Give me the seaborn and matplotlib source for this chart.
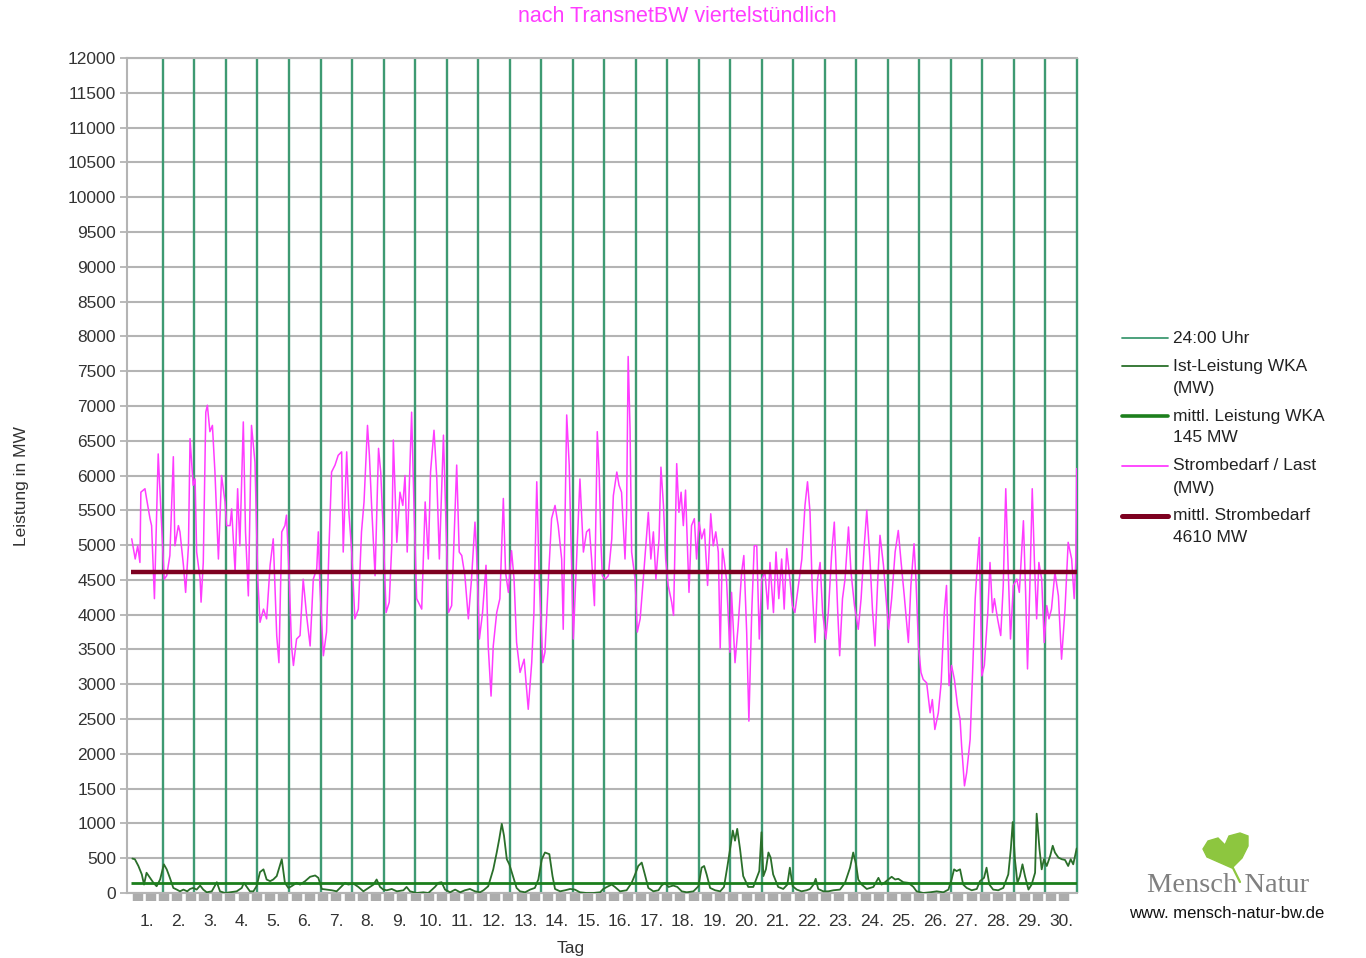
import numpy as np
import matplotlib
matplotlib.use("Agg")
import matplotlib.pyplot as plt
from matplotlib.lines import Line2D
from matplotlib.patches import Polygon
import seaborn as sns

# -----------------------------
# DATA (time in days since start)
# -----------------------------
last_t = [
    0.01, 0.12, 0.20, 0.27, 0.30, 0.43, 0.48, 0.59, 0.64, 0.73, 0.85, 0.94,
    1.04, 1.12, 1.22, 1.33, 1.38, 1.49, 1.54, 1.65, 1.72, 1.81, 1.86, 1.96,
    2.02, 2.07, 2.18, 2.21, 2.28, 2.36, 2.41, 2.49, 2.57, 2.65, 2.76, 2.86, 2.97,
    3.02, 3.13, 3.18, 3.29, 3.37, 3.44, 3.55, 3.62, 3.71, 3.81, 3.92,
    4.01, 4.08, 4.19, 4.29, 4.40, 4.50, 4.61, 4.68, 4.77, 4.87, 4.92,
    5.00, 5.08, 5.14, 5.24, 5.35, 5.45, 5.56, 5.67, 5.77, 5.88, 5.93, 5.98,
    6.09, 6.19, 6.27, 6.35, 6.46, 6.56, 6.67, 6.72, 6.83, 6.90, 6.99,
    7.09, 7.20, 7.30, 7.38, 7.49, 7.55, 7.62, 7.73, 7.84, 7.91, 7.99,
    8.08, 8.18, 8.26, 8.31, 8.42, 8.52, 8.61, 8.68, 8.75, 8.89, 8.97,
    9.05, 9.21, 9.32, 9.42, 9.49, 9.60, 9.69, 9.77, 9.90, 9.98,
    10.06, 10.16, 10.32, 10.40, 10.48, 10.58, 10.69, 10.79, 10.90, 10.95,
    11.04, 11.14, 11.25, 11.32, 11.41, 11.48, 11.59, 11.69, 11.80, 11.87, 11.96,
    12.06, 12.14, 12.22, 12.33, 12.46, 12.59, 12.70, 12.77, 12.86, 12.94,
    13.05, 13.12, 13.23, 13.33, 13.44, 13.54, 13.65, 13.70, 13.81, 13.89,
    14.02, 14.23, 14.34, 14.44, 14.53, 14.60, 14.69, 14.78, 14.84, 14.90, 14.94,
    15.03, 15.13, 15.24, 15.29, 15.40, 15.47, 15.55, 15.66, 15.71, 15.76, 15.82, 15.87, 15.98,
    16.05, 16.14, 16.24, 16.32, 16.40, 16.48, 16.56, 16.64, 16.74, 16.80, 16.88, 16.95,
    17.03, 17.14, 17.20, 17.30, 17.37, 17.44, 17.51, 17.58, 17.69, 17.77, 17.86, 17.93,
    18.01, 18.09, 18.18, 18.28, 18.38, 18.46, 18.54, 18.62, 18.68, 18.75, 18.80, 18.88, 18.99,
    19.04, 19.15, 19.25, 19.36, 19.43, 19.52, 19.59, 19.68, 19.76, 19.84, 19.92,
    20.00, 20.10, 20.19, 20.26, 20.37, 20.45, 20.54, 20.63, 20.71, 20.79, 20.89, 20.97,
    21.05, 21.16, 21.27, 21.37, 21.45, 21.53, 21.60, 21.69, 21.77, 21.85, 21.93,
    22.03, 22.11, 22.22, 22.30, 22.41, 22.47, 22.56, 22.64, 22.75, 22.83, 22.94,
    23.06, 23.15, 23.25, 23.33, 23.43, 23.51, 23.59, 23.68, 23.75, 23.86, 23.91,
    24.02, 24.12, 24.23, 24.33, 24.42, 24.52, 24.65, 24.73, 24.83, 24.89, 24.97,
    25.05, 25.12, 25.23, 25.34, 25.41, 25.49, 25.60, 25.69, 25.79, 25.86, 25.94,
    26.02, 26.11, 26.21, 26.29, 26.34, 26.43, 26.50, 26.61, 26.68, 26.77, 26.85, 26.90, 26.98,
    27.06, 27.17, 27.24, 27.32, 27.38, 27.48, 27.58, 27.66, 27.74, 27.82, 27.89, 27.98,
    28.09, 28.17, 28.30, 28.37, 28.43, 28.51, 28.58, 28.65, 28.72, 28.79, 28.88, 28.96,
    29.04, 29.11, 29.19, 29.30, 29.41, 29.51, 29.62, 29.72, 29.83, 29.91, 29.96, 29.99,
]
last_mw = [
    5090, 4800, 4990, 4750, 5760, 5810, 5670, 5380, 5280, 4230, 6310, 5470,
    4510, 4560, 4850, 6270, 4990, 5280, 5190, 4710, 4320, 4990, 6530, 5860,
    5950, 4900, 4510, 4180, 4750, 6910, 7010, 6630, 6720, 6050, 4800, 6000, 5620,
    5280, 5280, 5520, 4610, 5810, 4990, 6770, 5190, 4270, 6720, 6190,
    4510, 3890, 4080, 3940, 4710, 5090, 3700, 3310, 5190, 5280, 5430,
    4610, 3550, 3270, 3650, 3700, 4510, 3980, 3550, 4510, 4660, 5190, 4420,
    3410, 3750, 4990, 6050, 6150, 6290, 6340, 4900, 6340, 5470, 4900,
    3940, 4080, 5190, 5620, 6720, 6290, 5570, 4560, 6390, 6050, 5190,
    4030, 4180, 4990, 6510, 5040, 5760, 5570, 6000, 4900, 6910, 5470,
    4230, 4080, 5620, 4800, 6050, 6650, 5950, 4800, 6580, 5280,
    4030, 4130, 6150, 4900, 4850, 4560, 3940, 4510, 5330, 4900,
    3650, 4030, 4710, 3550, 2830, 3550, 4030, 4230, 5670, 4610, 4320,
    4920, 4510, 3600, 3170, 3360, 2640, 3310, 4030, 5910, 4510,
    3310, 3460, 4510, 5380, 5570, 5280, 4800, 3790, 6870, 6150,
    3650, 5950, 4900, 5190, 5230, 4800, 4130, 6630, 6050, 4990, 4560,
    4510, 4560, 5090, 5710, 6050, 5860, 5760, 4800, 5470, 7710, 6670, 4900, 4510,
    3750, 3940, 4510, 4990, 5470, 4800, 5190, 4510, 5090, 6120, 5570, 4800,
    4420, 4180, 3990, 6170, 5470, 5760, 5280, 5790, 4320, 5280, 5380, 4800,
    5330, 5090, 5230, 4420, 5450, 4990, 5190, 4900, 3510, 4950, 4800, 4510, 3460,
    4320, 3310, 3840, 4610, 4850, 3750, 2470, 4030, 4990, 4990, 3650,
    4510, 4610, 4080, 4750, 4030, 4900, 4230, 4800, 4080, 4950, 4510, 4130,
    4030, 4420, 4800, 5570, 5910, 5470, 4370, 3600, 4510, 4750, 4030,
    3650, 4030, 4900, 5330, 4030, 3410, 4230, 4510, 5260, 4610, 4130,
    3790, 4230, 4990, 5500, 4800, 4080, 3550, 4510, 5140, 4710, 4420,
    3790, 4230, 4900, 5210, 4750, 4270, 3600, 4420, 5020, 4510, 3550,
    3170, 3070, 3020, 2590, 2780, 2350, 2590, 3020, 4030, 4420, 2980,
    3270, 3070, 2690, 2500, 2110, 1540, 1730, 2210, 3070, 4230, 4800, 5110, 3120,
    3270, 4030, 4750, 4030, 4230, 3940, 3700, 4420, 5810, 4610, 3650, 4420,
    4510, 4320, 5350, 4320, 3220, 4510, 5810, 4750, 3940, 4750, 4510, 3600,
    4130, 3940, 4080, 4610, 4270, 3360, 4080, 5040, 4800, 4230, 4750, 6100,
]

wka_t = [
    0.03, 0.11, 0.22, 0.33, 0.40, 0.48, 0.59, 0.70, 0.80, 0.91,
    1.03, 1.12, 1.22, 1.33, 1.44, 1.54, 1.65, 1.77, 1.86, 1.96,
    2.07, 2.18, 2.28, 2.39, 2.55, 2.71, 2.81, 2.97, 3.13, 3.34, 3.50, 3.57, 3.66, 3.76, 3.87, 3.97,
    4.08, 4.19, 4.29, 4.40, 4.50, 4.61, 4.77, 4.87, 4.98, 5.08, 5.24, 5.35, 5.51, 5.67, 5.83, 5.93,
    6.04, 6.20, 6.36, 6.51, 6.67, 6.78, 6.88, 7.04, 7.20, 7.36, 7.52, 7.68, 7.78, 7.89, 7.99,
    8.10, 8.26, 8.42, 8.63, 8.73, 8.84, 9.05, 9.26, 9.42, 9.63, 9.74, 9.84, 9.95,
    10.11, 10.27, 10.43, 10.58, 10.74, 10.90, 11.06, 11.17, 11.32, 11.48, 11.59, 11.67, 11.75,
    11.82, 11.91, 11.99, 12.12, 12.22, 12.33, 12.49, 12.65, 12.80, 12.91,
    13.02, 13.12, 13.26, 13.36, 13.44, 13.60, 13.76, 13.92, 14.07, 14.23, 14.44, 14.65, 14.87,
    14.97, 15.13, 15.24, 15.34, 15.50, 15.71, 15.87, 15.98, 16.08, 16.19, 16.29, 16.40, 16.56,
    16.72, 16.82, 16.93, 17.04, 17.19, 17.32, 17.46, 17.62, 17.83, 17.99, 18.09, 18.17, 18.25,
    18.36, 18.52, 18.68, 18.80, 18.91, 19.01, 19.08, 19.15, 19.22, 19.31, 19.41, 19.57, 19.73,
    19.84, 19.92, 19.99, 20.05, 20.13, 20.21, 20.28, 20.36, 20.52, 20.68, 20.81, 20.89, 20.98,
    21.11, 21.26, 21.42, 21.53, 21.64, 21.71, 21.79, 21.95, 22.11, 22.27, 22.48, 22.64, 22.80,
    22.90, 22.99, 23.06, 23.17, 23.33, 23.54, 23.70, 23.80, 23.91, 24.01, 24.12, 24.23, 24.33,
    24.49, 24.65, 24.81, 24.91, 25.12, 25.34, 25.55, 25.76, 25.92, 26.02, 26.10, 26.18, 26.29,
    26.39, 26.50, 26.66, 26.82, 26.92, 27.05, 27.13, 27.22, 27.34, 27.50, 27.66, 27.82, 27.90,
    27.96, 28.03, 28.11, 28.19, 28.27, 28.35, 28.46, 28.56, 28.67, 28.72, 28.81, 28.88, 28.95,
    29.04, 29.15, 29.23, 29.30, 29.41, 29.52, 29.62, 29.72, 29.80, 29.88, 29.99,
]
wka_mw = [
    495, 485, 390, 267, 121, 291, 218, 146, 97, 194,
    412, 340, 218, 73, 49, 24, 49, 24, 58, 73,
    49, 107, 49, 10, 24, 155, 24, 0, 10, 24, 73, 146, 87, 24, 24, 97,
    301, 340, 194, 170, 194, 243, 485, 146, 73, 97, 146, 121, 170, 233, 252, 218,
    58, 49, 39, 24, 97, 146, 121, 136, 87, 24, 73, 121, 194, 87, 49,
    39, 58, 24, 39, 87, 24, 0, 10, 0, 87, 146, 155, 49,
    10, 49, 10, 39, 58, 24, 10, 39, 97, 340, 582, 776, 994,
    825, 485, 412, 218, 73, 24, 10, 49, 73, 194,
    485, 582, 558, 243, 58, 24, 39, 58, 49, 10, 0, 0, 10,
    58, 97, 121, 87, 24, 39, 146, 267, 388, 437, 267, 73, 24,
    39, 107, 146, 87, 107, 87, 24, 10, 24, 97, 364, 388, 267,
    73, 39, 24, 87, 388, 679, 897, 752, 922, 631, 243, 87, 87,
    218, 315, 873, 243, 340, 582, 509, 267, 87, 58, 121, 364, 97,
    49, 24, 39, 58, 121, 204, 58, 24, 24, 39, 49, 146, 364,
    582, 412, 194, 121, 58, 87, 218, 121, 155, 194, 233, 194, 204,
    155, 146, 87, 24, 0, 10, 24, 10, 49, 194, 340, 315, 340,
    121, 73, 39, 58, 170, 218, 364, 121, 49, 39, 73, 267, 631,
    1019, 485, 146, 243, 412, 243, 49, 121, 291, 1140, 631, 340, 485,
    388, 534, 679, 582, 509, 485, 475, 388, 485, 412, 640,
]

tage = list(range(1, 31))            # 24:00 Uhr markers
tag_labels = [f"{d}." for d in tage]
mittel_wka = 145
mittel_last = 4610

# -----------------------------
# COLOURS
# -----------------------------
c_mitternacht = "#3e9a72"
c_wka = "#2a6f2a"
c_mittel_wka = "#1c7f1c"
c_last = "#ff3cff"
c_mittel_last = "#7d0020"

# -----------------------------
# FIGURE
# -----------------------------
sns.set_style("white")
plt.rcParams["font.family"] = ["Liberation Sans", "DejaVu Sans"]

W, H = 1366, 958
fig = plt.figure(figsize=(W / 100, H / 100), dpi=100)
ax = fig.add_axes([127 / W, 1 - 893 / H, (1077 - 127) / W, (893 - 58) / H])

def fx(px):
    return px / W

def fy(py):
    return 1 - py / H

# grid / axes
ax.set_xlim(-0.14, 30)
ax.set_ylim(0, 12000)
ax.set_yticks(np.arange(0, 12001, 500))
ax.yaxis.grid(True, color="#b4b4b4", linewidth=1.5)
ax.xaxis.grid(False)
ax.set_axisbelow(True)
ax.spines["right"].set_visible(False)
for side in ["left", "top", "bottom"]:
    ax.spines[side].set_color("#b4b4b4")
    ax.spines[side].set_linewidth(1.5)

ax.tick_params(axis="y", which="major", left=True, length=5, width=1.3,
               color="#b4b4b4", labelsize=12.5, labelcolor="#333333", pad=3)
ax.set_xticks([d - 0.5 for d in tage])
ax.set_xticklabels(tag_labels)
ax.tick_params(axis="x", which="major", length=0, labelsize=12.5,
               labelcolor="#333333", pad=15)
ax.xaxis.remove_overlapping_locs = False
ax.set_xticks(np.arange(0.2, 30, 0.42), minor=True)
ax.tick_params(axis="x", which="minor", bottom=True, direction="out",
               length=5.5, width=7.5, color="#acacac")

# series in legend order
ax.vlines(tage, 0, 12000, color=c_mitternacht, linewidth=1.7, clip_on=False, zorder=2)
sns.lineplot(x=wka_t, y=wka_mw, ax=ax, color=c_wka, linewidth=1.3,
             estimator=None, legend=False, zorder=3)
ax.hlines(mittel_wka, 0, 30, color=c_mittel_wka, linewidth=2.0, zorder=4)
sns.lineplot(x=last_t, y=last_mw, ax=ax, color=c_last, linewidth=1.1,
             estimator=None, legend=False, zorder=5)
ax.hlines(mittel_last, 0, 30, color=c_mittel_last, linewidth=3.2, zorder=6)
ax.set_xlabel("")
ax.set_ylabel("")

# -----------------------------
# TEXTS
# -----------------------------
fig.text(fx(677), fy(17), "nach TransnetBW viertelstündlich", color=c_last,
         fontsize=15.5, ha="center", va="center",
         family=["Liberation Sans Narrow", "Liberation Sans", "DejaVu Sans"])
fig.text(fx(22), fy(486), "Leistung in MW", rotation=90, fontsize=12.5,
         color="#333333", ha="center", va="center")
fig.text(fx(571), fy(948), "Tag", fontsize=12.5, color="#333333",
         ha="center", va="center")

# legend (handle aligned with first text line)
legend_items = [
    (c_mitternacht, 1.3, ["24:00 Uhr"]),
    (c_wka, 1.3, ["Ist-Leistung WKA", "(MW)"]),
    (c_mittel_wka, 2.6, ["mittl. Leistung WKA", f"{mittel_wka} MW"]),
    (c_last, 1.3, ["Strombedarf / Last", "(MW)"]),
    (c_mittel_last, 3.6, ["mittl. Strombedarf", f"{mittel_last} MW"]),
]
y0 = 338
for color, lw, lines in legend_items:
    fig.add_artist(Line2D([fx(1122), fx(1168)], [fy(y0), fy(y0)],
                          color=color, linewidth=lw, transform=fig.transFigure))
    for i, txt in enumerate(lines):
        fig.text(fx(1173), fy(y0 + 22 * i), txt, fontsize=12.5, color="#222222",
                 ha="left", va="center")
    y0 += 22 * len(lines) + 6 if len(lines) > 1 else 28

# logo
leaf_px = [(1232, 868), (1207, 857), (1203, 849), (1208, 841), (1218, 838),
           (1225, 845), (1229, 836), (1240, 833), (1248, 836), (1248, 846),
           (1242, 858)]
fig.add_artist(Polygon([(fx(x), fy(y)) for x, y in leaf_px], closed=True,
                       facecolor="#8dc63f", edgecolor="#8dc63f",
                       transform=fig.transFigure))
fig.add_artist(Line2D([fx(1232), fx(1240)], [fy(866), fy(882)], color="#8dc63f",
                      linewidth=1.6, transform=fig.transFigure))
fig.text(fx(1228), fy(886), "Mensch Natur", fontsize=20.5, color="#808080",
         family=["Liberation Serif", "DejaVu Serif"], ha="center", va="center")
fig.text(fx(1227), fy(913), "www. mensch-natur-bw.de", fontsize=12,
         color="#111111", ha="center", va="center")

fig.savefig("out.png", dpi=100)
